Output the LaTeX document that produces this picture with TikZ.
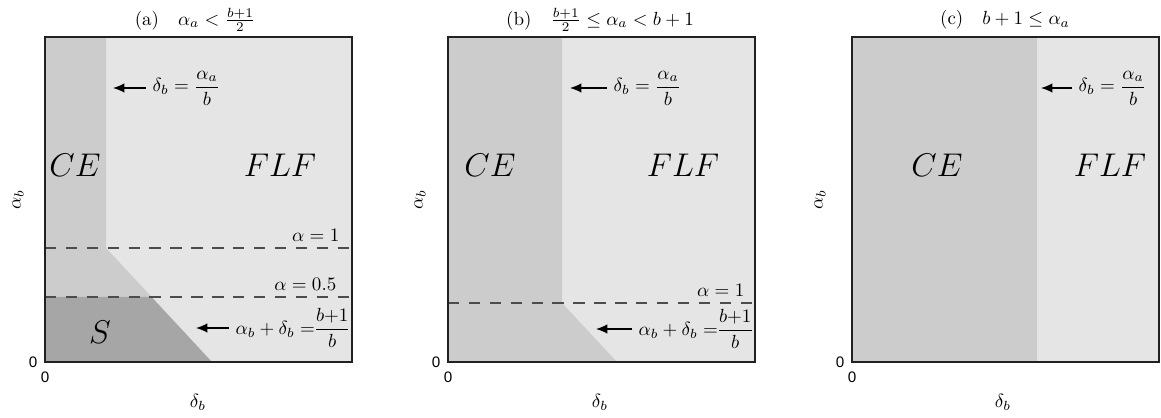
\documentclass[tikz,border=0pt]{standalone}
\usepackage{fontspec}
\usepackage{amsmath}
\newfontfamily\zerofont{Liberation Sans}
\usetikzlibrary{arrows.meta}

\begin{document}
\begin{tikzpicture}[x=1.85cm, y=1.85cm, >={Latex[length=6pt,width=5pt]},
  ce/.style={fill=black!20},
  flf/.style={fill=black!10},
  sreg/.style={fill=black!35},
  frame/.style={draw=black!87, line width=0.8pt},
  level/.style={draw=black!70, line width=0.6pt, dash pattern=on 6pt off 5pt},
  pointer/.style={->, line width=0.7pt},
  region/.style={font=\LARGE},
  zero/.style={font=\zerofont\footnotesize, inner sep=1pt}]

  \useasboundingbox (0,0) rectangle (11.61,4.18);

  % (a) alpha_a < (b+1)/2
  \begin{scope}[shift={(0.45,0.56)}]
    \fill[flf] (0,0) rectangle (3.07,3.25);
    \fill[ce] (0,0.65) -- (0,3.25) -- (0.61,3.25) -- (0.61,1.14) -- (1.066,0.65) -- cycle;
    \fill[sreg] (0,0) -- (0,0.65) -- (1.066,0.65) -- (1.67,0) -- cycle;

    % Threshold lines
    \draw[level] (0,1.14) -- (3.07,1.14);
    \draw[level] (0,0.65) -- (3.07,0.65);
    \node[above left] (a1) at (3.01,1.14) {$\alpha = 1$};
    \node[above left] (a05) at (2.98,0.65) {$\alpha = 0.5$};

    \draw[frame] (0,0) rectangle (3.07,3.25);

    % Region names
    \node[region] (ceA) at (0.30,1.97) {$CE$};
    \node[region] (flfA) at (2.35,1.97) {$FLF$};
    \node[region] (sA) at (0.55,0.30) {$S$};

    % Boundary pointers
    \coordinate (pA) at (0.68,2.74);
    \node[anchor=west] (lA) at (1.01,2.74) {$\delta_b = \dfrac{\alpha_a}{b}$};
    \draw[pointer] (lA.west) -- (pA);
    \coordinate (qA) at (1.51,0.34);
    \node[anchor=west] (mA) at (1.84,0.34) {$\alpha_b + \delta_b =\!\!\dfrac{b{+}1}{b}$};
    \draw[pointer] (mA.west) -- (qA);

    % Axes
    \node[rotate=90] (yA) at (-0.27,1.62) {$\alpha_b$};
    \node (xA) at (1.53,-0.40) {$\delta_b$};
    \node[zero] (zyA) at (-0.12,0) {0};
    \node[zero] (zxA) at (0,-0.15) {0};
    \node (tA) at (1.50,3.42) {(a)\quad $\alpha_a < \frac{b+1}{2}$};
  \end{scope}

  % (b) (b+1)/2 <= alpha_a < b+1
  \begin{scope}[shift={(4.48,0.56)}]
    \fill[flf] (0,0) rectangle (3.07,3.25);
    \fill[ce] (0,0) -- (0,3.25) -- (1.14,3.25) -- (1.14,0.59) -- (1.69,0) -- cycle;

    \draw[level] (0,0.59) -- (3.07,0.59);
    \node[above left] (b1) at (3.03,0.59) {$\alpha = 1$};

    \draw[frame] (0,0) rectangle (3.07,3.25);

    \node[region] (ceB) at (0.42,1.97) {$CE$};
    \node[region] (flfB) at (2.35,1.97) {$FLF$};

    \coordinate (pB) at (1.22,2.74);
    \node[anchor=west] (lB) at (1.59,2.74) {$\delta_b = \dfrac{\alpha_a}{b}$};
    \draw[pointer] (lB.west) -- (pB);
    \coordinate (qB) at (1.48,0.33);
    \node[anchor=west] (mB) at (1.84,0.33) {$\alpha_b + \delta_b =\!\!\dfrac{b{+}1}{b}$};
    \draw[pointer] (mB.west) -- (qB);

    \node[rotate=90] (yB) at (-0.28,1.62) {$\alpha_b$};
    \node (xB) at (1.52,-0.40) {$\delta_b$};
    \node[zero] (zyB) at (-0.12,0) {0};
    \node[zero] (zxB) at (0,-0.15) {0};
    \node (tB) at (1.52,3.42) {(b)\quad $\frac{b+1}{2} \le \alpha_a < b+1$};
  \end{scope}

  % (c) b+1 <= alpha_a
  \begin{scope}[shift={(8.52,0.56)}]
    \fill[flf] (0,0) rectangle (3.07,3.25);
    \fill[ce] (0,0) rectangle (1.85,3.25);

    \draw[frame] (0,0) rectangle (3.07,3.25);

    \node[region] (ceC) at (0.85,1.97) {$CE$};
    \node[region] (flfC) at (2.58,1.97) {$FLF$};

    \coordinate (pC) at (1.89,2.74);
    \node[anchor=west] (lC) at (2.20,2.74) {$\delta_b = \dfrac{\alpha_a}{b}$};
    \draw[pointer] (lC.west) -- (pC);

    \node[rotate=90] (yC) at (-0.32,1.62) {$\alpha_b$};
    \node (xC) at (1.51,-0.40) {$\delta_b$};
    \node[zero] (zyC) at (-0.12,0) {0};
    \node[zero] (zxC) at (0,-0.15) {0};
    \node (tC) at (1.53,3.42) {(c)\quad $b+1 \le \alpha_a$};
  \end{scope}
\end{tikzpicture}
\end{document}
